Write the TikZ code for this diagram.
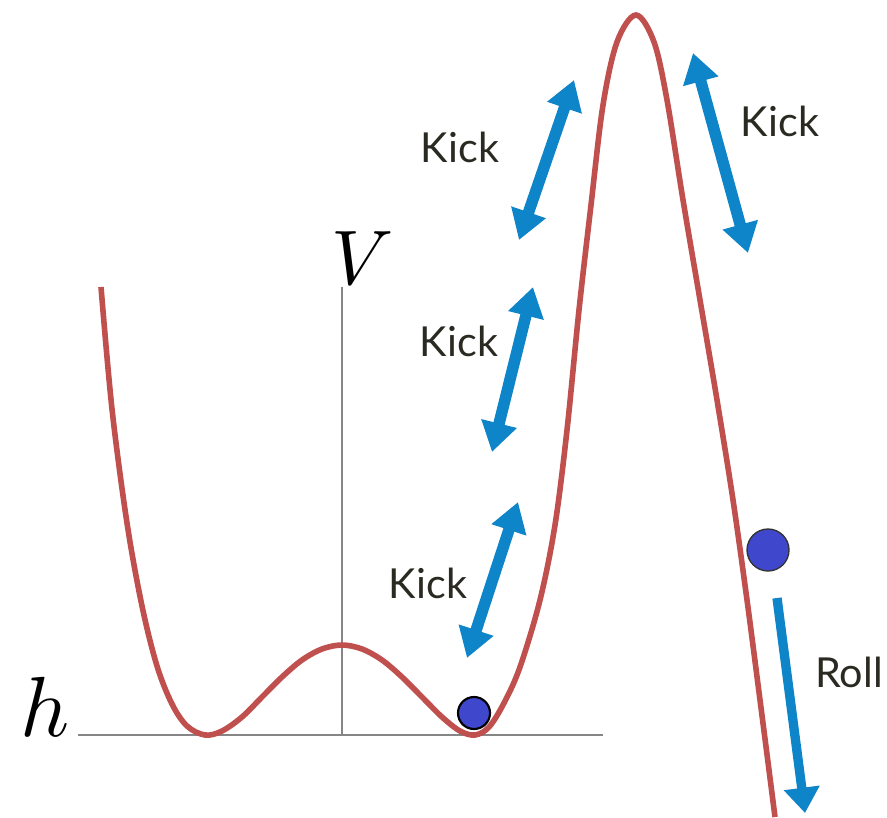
\documentclass[tikz,border=0pt]{standalone}
\usepackage{fontspec}
\setsansfont{Lato}
\usetikzlibrary{arrows.meta}
\definecolor{curvered}{HTML}{C0504D}
\definecolor{kickblue}{HTML}{0E85C8}
\definecolor{ballblue}{HTML}{3F48CC}
\definecolor{labelink}{HTML}{2B2A22}

\begin{document}
\begin{tikzpicture}[x=0.75pt,y=-0.75pt,
  axis/.style={draw=gray!95,line width=1.5pt},
  pot/.style={draw=curvered,line width=4.2pt},
  ball/.style={circle,fill=ballblue,inner sep=0pt,minimum size=#1},
  kick/.style={draw=kickblue,line width=8.6pt,
    {Triangle[length=22pt,width=26pt]}-{Triangle[length=22pt,width=26pt]}},
  roll/.style={draw=kickblue,line width=7pt,-{Triangle[length=19pt,width=26pt]}},
  lbl/.style={font=\sffamily\fontsize{31}{31}\selectfont,text=labelink}]
\useasboundingbox (0,0) rectangle (887,817);
\draw[axis] (78,735) -- (603,735);
\draw[axis] (342,735) -- (342,287);
\node[scale=5.8] (V) at (363,258) {$V$};
\node[scale=6.4] (h) at (45,707) {$h$};
\draw[pot] plot[smooth,tension=0.55] coordinates {
  (101,287) (112,409) (127,523) (142,606) (157,666) (172,704) (187,726)
  (205,735) (222,731) (242,717) (262,697) (282,677) (302,660) (322,649)
  (342,645) (362,649) (382,660) (402,677) (422,697) (442,717) (460,731)
  (475,735) (489,727) (504,703) (520,667) (540,600) (555,525) (567,430)
  (579,310) (591,205) (603,105) (617,42) (636,15) (654,42) (667,100)
  (683,200) (700,300) (717,400) (733,500) (747,600) (760,700) (775,817)};
\node[ball=24pt,draw=black,line width=1.6pt] (b1) at (474,713) {};
\node[ball=31.5pt,draw=black!80,line width=1pt] (b2) at (768,550) {};
\coordinate (k1a) at (519,240); \coordinate (k1b) at (574,80);
\coordinate (k2a) at (492,452); \coordinate (k2b) at (533,287);
\coordinate (k3a) at (467,658); \coordinate (k3b) at (518,502);
\coordinate (k4a) at (748,253); \coordinate (k4b) at (693,53);
\coordinate (r1) at (777,598); \coordinate (r2) at (805,813);
\draw[kick] (k1a) -- (k1b);
\draw[kick] (k2a) -- (k2b);
\draw[kick] (k3a) -- (k3b);
\draw[kick] (k4a) -- (k4b);
\draw[roll] (r1) -- (r2);
\node[lbl] (kick1) at (460,147) {Kick};
\node[lbl] (kick2) at (459,341) {Kick};
\node[lbl] (kick3) at (428,583) {Kick};
\node[lbl] (kick4) at (780,121) {Kick};
\node[lbl] (rolllbl) at (849,672) {Roll};
\end{tikzpicture}
\end{document}
